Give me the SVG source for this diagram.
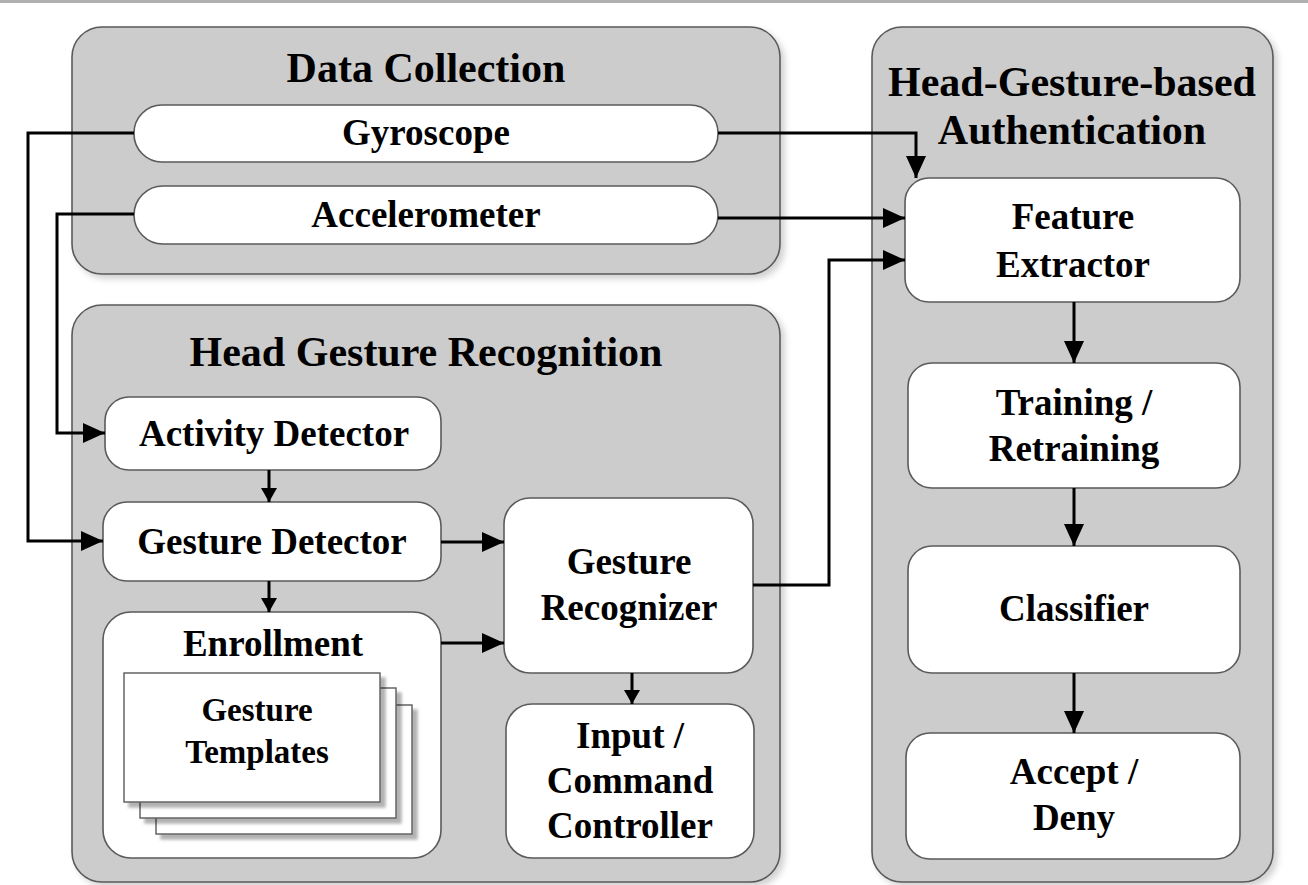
<svg xmlns="http://www.w3.org/2000/svg" width="1308" height="885" viewBox="0 0 1308 885">
<style>
.cont{fill:#cccccc;stroke:#5a5a5a;stroke-width:1.6;filter:url(#sh)}
.box{fill:#ffffff;stroke:#5a5a5a;stroke-width:1.6}
.page{fill:#ffffff;stroke:#5a5a5a;stroke-width:1.4;filter:url(#sh2)}
.t{font-family:"Liberation Serif","Times New Roman",serif;font-weight:bold;fill:#000;text-anchor:middle}
.title{font-size:42px}
.lbl{font-size:37px}
.sm{font-size:33px}
.c{fill:none;stroke:#000;stroke-width:3}
</style>
<defs>
<filter id="sh" x="-5%" y="-5%" width="115%" height="115%">
<feDropShadow dx="4" dy="4" stdDeviation="3" flood-color="#000" flood-opacity="0.18"/>
</filter>
<filter id="sh2" x="-5%" y="-5%" width="115%" height="115%">
<feDropShadow dx="5" dy="5" stdDeviation="1.5" flood-color="#000" flood-opacity="0.3"/>
</filter>
<marker id="ab" markerUnits="userSpaceOnUse" markerWidth="22" markerHeight="20" refX="22" refY="10" orient="auto">
<path d="M0,0 L22,10 L0,20 z" fill="#000"/>
</marker>
<marker id="as" markerUnits="userSpaceOnUse" markerWidth="14" markerHeight="16" refX="14" refY="8" orient="auto">
<path d="M0,0 L14,8 L0,16 z" fill="#000"/>
</marker>
</defs>
<rect x="0" y="0" width="1308" height="3" fill="#b0b0b0"/>

<g id="data-collection">
<rect class="cont" x="72" y="27" width="708" height="247" rx="30"/>
<text class="t title" x="426" y="82">Data Collection</text>
</g>
<g id="head-gesture-recognition">
<rect class="cont" x="72" y="305" width="708" height="577" rx="30"/>
<text class="t title" x="426" y="366">Head Gesture Recognition</text>
</g>
<g id="authentication">
<rect class="cont" x="872" y="27" width="401" height="855" rx="30"/>
<text class="t title" x="1072" y="96">Head-Gesture-based</text>
<text class="t title" x="1072" y="144">Authentication</text>
</g>

<g id="gyroscope">
<rect class="box" x="134" y="105" width="584" height="57" rx="28"/>
<text class="t lbl" x="426" y="145">Gyroscope</text>
</g>
<g id="accelerometer">
<rect class="box" x="134" y="186" width="584" height="58" rx="29"/>
<text class="t lbl" x="426" y="227">Accelerometer</text>
</g>

<g id="activity-detector">
<rect class="box" x="105" y="397" width="336" height="73" rx="24"/>
<text class="t lbl" x="274" y="446">Activity Detector</text>
</g>
<g id="gesture-detector">
<rect class="box" x="103" y="502" width="338" height="79" rx="24"/>
<text class="t lbl" x="272" y="554">Gesture Detector</text>
</g>
<g id="enrollment">
<rect class="box" x="103" y="612" width="338" height="246" rx="28"/>
<text class="t lbl" x="273" y="656">Enrollment</text>
<g id="gesture-templates">
<rect class="page" x="156" y="705" width="256" height="129"/>
<rect class="page" x="140" y="688" width="256" height="130"/>
<rect class="page" x="124" y="673" width="256" height="129"/>
<text class="t sm" x="257" y="721">Gesture</text>
<text class="t sm" x="257" y="763">Templates</text>
</g>
</g>
<g id="gesture-recognizer">
<rect class="box" x="504" y="498" width="249" height="175" rx="26"/>
<text class="t lbl" x="629" y="574">Gesture</text>
<text class="t lbl" x="629" y="620">Recognizer</text>
</g>
<g id="input-command-controller">
<rect class="box" x="506" y="704" width="248" height="154" rx="26"/>
<text class="t lbl" x="630" y="748">Input /</text>
<text class="t lbl" x="630" y="793">Command</text>
<text class="t lbl" x="630" y="838">Controller</text>
</g>

<g id="feature-extractor">
<rect class="box" x="905" y="178" width="335" height="124" rx="24"/>
<text class="t lbl" x="1073" y="229">Feature</text>
<text class="t lbl" x="1073" y="277">Extractor</text>
</g>
<g id="training">
<rect class="box" x="908" y="363" width="332" height="125" rx="24"/>
<text class="t lbl" x="1074" y="415">Training /</text>
<text class="t lbl" x="1074" y="461">Retraining</text>
</g>
<g id="classifier">
<rect class="box" x="908" y="546" width="332" height="127" rx="24"/>
<text class="t lbl" x="1074" y="621">Classifier</text>
</g>
<g id="accept-deny">
<rect class="box" x="906" y="733" width="334" height="126" rx="24"/>
<text class="t lbl" x="1074" y="784">Accept /</text>
<text class="t lbl" x="1074" y="830">Deny</text>
</g>

<g id="connectors">
<path class="c" d="M134,133 H28 V541 H103" marker-end="url(#ab)"/>
<path class="c" d="M134,214 H57 V433 H105" marker-end="url(#ab)"/>
<path class="c" d="M718,133 H916 V178" marker-end="url(#ab)"/>
<path class="c" d="M718,218 H905" marker-end="url(#ab)"/>
<path class="c" d="M753,585 H829 V260 H905" marker-end="url(#ab)"/>
<path class="c" d="M269,470 V502" marker-end="url(#as)"/>
<path class="c" d="M269,581 V612" marker-end="url(#as)"/>
<path class="c" d="M441,542 H504" marker-end="url(#ab)"/>
<path class="c" d="M441,643 H504" marker-end="url(#ab)"/>
<path class="c" d="M632,673 V704" marker-end="url(#as)"/>
<path class="c" d="M1074,302 V363" marker-end="url(#ab)"/>
<path class="c" d="M1074,488 V546" marker-end="url(#ab)"/>
<path class="c" d="M1074,673 V733" marker-end="url(#ab)"/>
</g>
</svg>
